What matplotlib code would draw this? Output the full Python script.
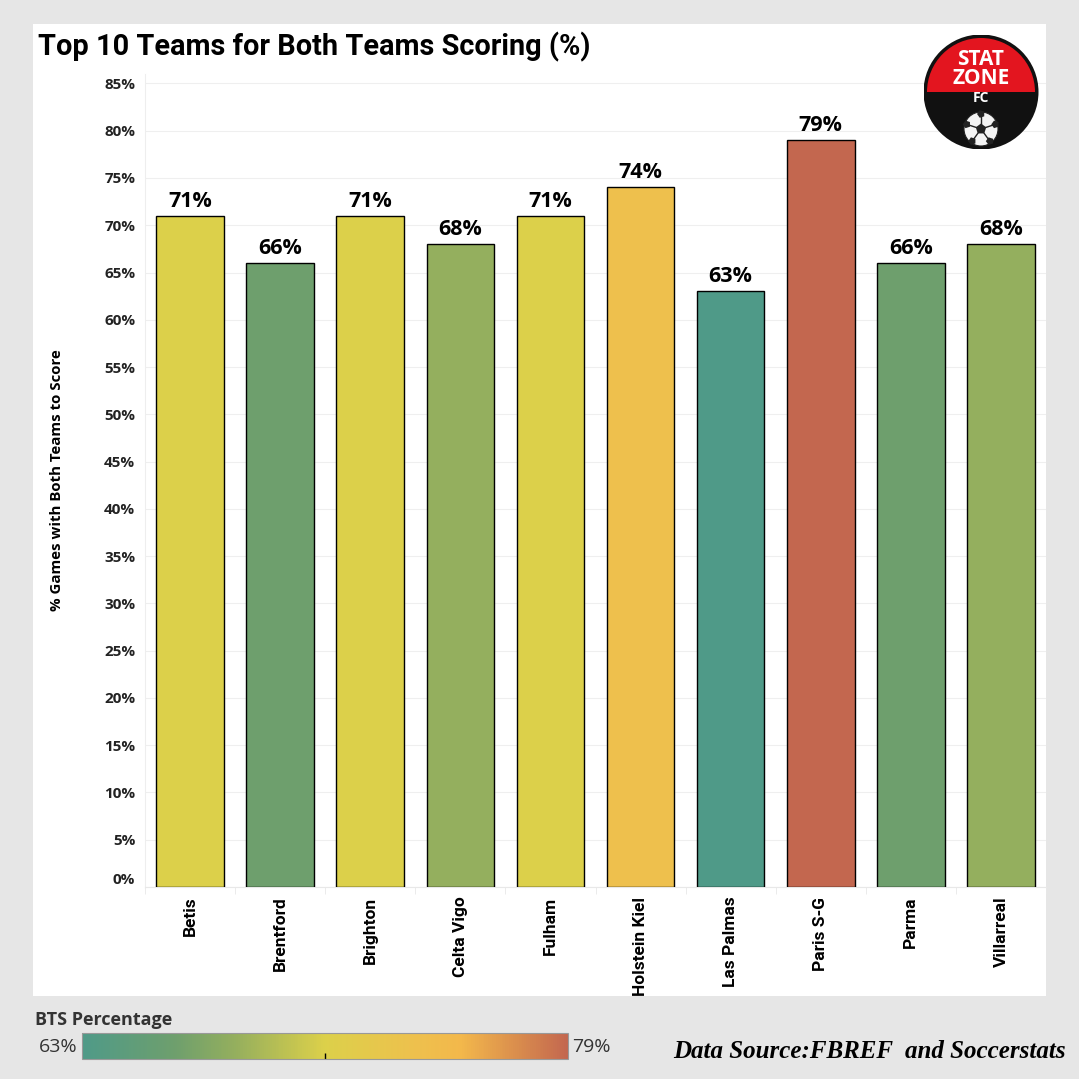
import matplotlib

matplotlib.use("Agg")
import matplotlib.pyplot as plt
import numpy as np
from matplotlib import patches
from matplotlib.colors import LinearSegmentedColormap, Normalize
from matplotlib.cm import ScalarMappable
from matplotlib.transforms import ScaledTranslation

# data
teams = ["Betis", "Brentford", "Brighton", "Celta Vigo", "Fulham",
         "Holstein Kiel", "Las Palmas", "Paris S-G", "Parma", "Villarreal"]
bts_pct = [71, 66, 71, 68, 71, 74, 63, 79, 66, 68]
y_ticks = list(range(0, 90, 5))

W = H = 1079
BG = "#e6e6e6"
SANS = "Open Sans"


def fx(px):
    return px / W


def fy(py):
    return 1 - py / H


cmap = LinearSegmentedColormap.from_list("bts", [
    (0.00, "#4f9a88"),
    (0.19, "#6e9f6d"),
    (0.31, "#93ae5e"),
    (0.50, "#dcd04a"),
    (0.69, "#eec04d"),
    (0.78, "#f3b84b"),
    (1.00, "#c3674f"),
])
norm = Normalize(vmin=min(bts_pct), vmax=max(bts_pct))

fig = plt.figure(figsize=(W / 100, H / 100), dpi=100, facecolor=BG)

# white panel
fig.patches.append(patches.Rectangle((fx(33), fy(996)), fx(1046) - fx(33), fy(24) - fy(996),
                                     transform=fig.transFigure, facecolor="white",
                                     edgecolor="none", zorder=-10))

ax = fig.add_axes([fx(145), fy(887), fx(1046) - fx(145), fy(74) - fy(887)])
ax.set_facecolor("white")
x = np.arange(len(teams))
ax.bar(x, bts_pct, width=0.75, color=cmap(norm(bts_pct)), edgecolor="black",
       linewidth=1.0, zorder=3)
for xi, v in zip(x, bts_pct):
    ax.annotate(f"{v}%", (xi, v), xytext=(0, 3), textcoords="offset points",
                ha="center", va="bottom", fontsize=15.5, fontweight="bold",
                family=SANS, color="black")

ax.set_xlim(-0.5, len(teams) - 0.5)
ax.set_ylim(0, 86)
ax.set_yticks(y_ticks)
ax.set_yticklabels([f"{t}%" for t in y_ticks], fontsize=11, fontweight="bold",
                   family=SANS, color="#222222")
ax.grid(axis="y", color="#efefef", linewidth=0.8, zorder=0)
ax.tick_params(axis="y", length=0, pad=7)
for lab in ax.get_yticklabels():
    if lab.get_text() == "0%":
        lab.set_transform(lab.get_transform() + ScaledTranslation(0, 0.08, fig.dpi_scale_trans))

ax.set_xticks(x)
ax.set_xticklabels(teams, rotation=90, fontsize=12.5, fontweight="bold",
                   family=["Liberation Sans Narrow", "Roboto"], color="black")
ax.tick_params(axis="x", length=0, pad=7)
ax.set_xticks(np.arange(-0.5, len(teams)), minor=True)
ax.tick_params(axis="x", which="minor", length=5, color="#e8e8e8")

for side in ["top", "right"]:
    ax.spines[side].set_visible(False)
ax.spines["left"].set_color("#eeeeee")
ax.spines["bottom"].set_color("#e8e8e8")

fig.text(fx(57), fy(480), "% Games with Both Teams to Score", rotation=90,
         ha="center", va="center", fontsize=10.8, fontweight="bold",
         family=SANS, color="black")

fig.text(fx(38), fy(47), "Top 10 Teams for Both Teams Scoring (%)", ha="left",
         va="center", fontsize=20.8, fontweight="bold", family="Roboto", color="black")

# logo
cx, cy, r = 981, 92, 57.5
logo_ax = fig.add_axes([fx(cx - r), fy(cy + r), fx(2 * r), fx(2 * r)])
logo_ax.set_xlim(cx - r, cx + r)
logo_ax.set_ylim(H - cy - r, H - cy + r)
logo_ax.set_aspect("equal")
logo_ax.axis("off")
disc = patches.Circle((cx, H - cy), r, facecolor="#111111", edgecolor="none")
logo_ax.add_patch(disc)
logo_ax.add_patch(patches.Wedge((cx, H - cy), r - 3.5, 0, 180, facecolor="#e3151f",
                                edgecolor="none"))
logo_ax.text(cx, H - 69, "STAT\nZONE", ha="center", va="center", color="white",
             fontsize=15, fontweight="bold", family=SANS, linespacing=0.85)
logo_ax.text(cx, H - 102, "FC", ha="center", va="baseline", color="white",
             fontsize=10, fontweight="bold", family=SANS)
bx, by = cx, H - 129
ball = patches.Circle((bx, by), 17, facecolor="#f4f4f4", edgecolor="#222222", lw=0.8)
logo_ax.add_patch(ball)
ball.set_clip_path(disc)
logo_ax.add_patch(patches.RegularPolygon((bx, by), 5, radius=5.5, facecolor="#222222"))
for ang in np.deg2rad([90, 162, 234, 306, 18]):
    px, py = bx + 15 * np.cos(ang), by + 15 * np.sin(ang)
    seam = logo_ax.plot([bx + 5.5 * np.cos(ang), px], [by + 5.5 * np.sin(ang), py],
                        color="#222222", lw=1.0)[0]
    seam.set_clip_path(disc)
    patch = logo_ax.add_patch(patches.RegularPolygon((px, py), 5, radius=4,
                                                     orientation=ang, facecolor="#222222"))
    patch.set_clip_path(disc)

# colour legend
fig.text(fx(35), fy(1020), "BTS Percentage", ha="left", va="center", fontsize=13,
         fontweight="bold", family=SANS, color="#333333")
cax = fig.add_axes([fx(82), fy(1059), fx(568) - fx(82), fy(1033) - fy(1059)])
cb = fig.colorbar(ScalarMappable(norm=norm, cmap=cmap), cax=cax, orientation="horizontal")
cb.outline.set_edgecolor("#999999")
cb.set_ticks([(norm.vmin + norm.vmax) / 2])
cb.set_ticklabels([""])
cax.tick_params(length=4, width=1, color="black", direction="in")
fig.text(fx(78), fy(1047), f"{min(bts_pct)}%", ha="right", va="center", fontsize=14,
         family=SANS, color="#333333")
fig.text(fx(572), fy(1047), f"{max(bts_pct)}%", ha="left", va="center", fontsize=14,
         family=SANS, color="#333333")

fig.text(fx(1066), fy(1052), "Data Source:FBREF  and Soccerstats", ha="right", va="center",
         fontsize=18, fontweight="bold", style="italic", family="Liberation Serif",
         color="black")

fig.savefig("out.png", dpi=100, facecolor=BG)
